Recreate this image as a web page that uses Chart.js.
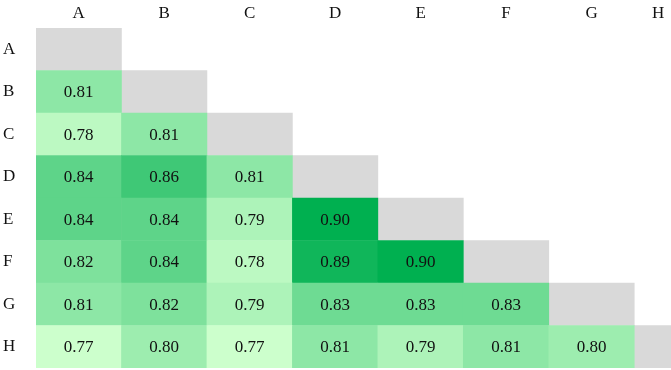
<!DOCTYPE html>
<html>
<head>
<meta charset="utf-8">
<script src="https://cdn.jsdelivr.net/npm/chart.js@4.4.1/dist/chart.umd.min.js"></script>
<style>
  body { margin: 0; background: #fff; overflow: hidden; }
</style>
</head>
<body>
<canvas id="heat" width="671" height="370"></canvas>
<script>
// labels for both axes
const columns = ['A', 'B', 'C', 'D', 'E', 'F', 'G', 'H'];
const rows = ['A', 'B', 'C', 'D', 'E', 'F', 'G', 'H'];

// lower triangle, one array per row (columns A..)
const rowA = [];
const rowB = [0.81];
const rowC = [0.78, 0.81];
const rowD = [0.84, 0.86, 0.81];
const rowE = [0.84, 0.84, 0.79, 0.90];
const rowF = [0.82, 0.84, 0.78, 0.89, 0.90];
const rowG = [0.81, 0.82, 0.79, 0.83, 0.83, 0.83];
const rowH = [0.77, 0.80, 0.77, 0.81, 0.79, 0.81, 0.80];

const allRows = [rowA, rowB, rowC, rowD, rowE, rowF, rowG, rowH];

// only part of the last column fits in the picture
const visibleCols = 7.43;

const lowColor = [204, 255, 204];
const highColor = [0, 176, 80];
const lowVal = 0.77, highVal = 0.90;

function cellColor(v) {
    let t = (v - lowVal) / (highVal - lowVal);
    t = Math.max(0, Math.min(1, t));
    const c = lowColor.map((lo, k) => Math.round(lo + (highColor[k] - lo) * t));
    return 'rgb(' + c.join(',') + ')';
}

const cells = [];
const cellColors = [];
const diagonal = [];
allRows.forEach(function (vals, i) {
    vals.forEach(function (v, j) {
        cells.push({ x: j + 0.5, y: [i, i + 1], v: v });
        cellColors.push(cellColor(v));
    });
    diagonal.push({ x: i + 0.5, y: [i, i + 1] });
});

const fontFamily = '"Liberation Serif", "Times New Roman", serif';

// write the value in the middle of each coloured cell
const cellText = {
    id: 'cellText',
    afterDatasetsDraw(chart) {
        const ctx = chart.ctx;
        const meta = chart.getDatasetMeta(0);
        ctx.save();
        ctx.font = '17px ' + fontFamily;
        ctx.fillStyle = '#111';
        ctx.textAlign = 'center';
        ctx.textBaseline = 'middle';
        meta.data.forEach(function (bar, k) {
            const p = bar.getCenterPoint();
            ctx.fillText(cells[k].v.toFixed(2), p.x, p.y + 1);
        });
        ctx.restore();
    }
};

function noPadding(scale) {
    scale.paddingLeft = 0;
    scale.paddingRight = 0;
    scale.paddingTop = 0;
    scale.paddingBottom = 0;
}

const ctx = document.getElementById('heat').getContext('2d');
new Chart(ctx, {
    type: 'bar',
    data: {
        datasets: [{
            data: cells,
            backgroundColor: cellColors,
            borderWidth: 0,
            grouped: false,
            barPercentage: 1,
            categoryPercentage: 1
        }, {
            data: diagonal,
            backgroundColor: '#d9d9d9',
            borderWidth: 0,
            grouped: false,
            barPercentage: 1,
            categoryPercentage: 1
        }]
    },
    plugins: [cellText],
    options: {
        responsive: false,
        animation: false,
        layout: { padding: { left: 3, right: 0, top: 0, bottom: 2 } },
        plugins: {
            legend: { display: false },
            tooltip: { enabled: false }
        },
        scales: {
            x: {
                type: 'linear',
                display: false,
                offset: false,
                min: 0,
                max: visibleCols,
                afterBuildTicks: function (scale) {
                    scale.ticks = columns.map((c, j) => ({ value: j }));
                },
                afterFit: noPadding
            },
            xTop: {
                type: 'linear',
                position: 'top',
                offset: false,
                min: 0,
                max: visibleCols,
                grid: { display: false, drawTicks: false },
                border: { display: false },
                afterBuildTicks: function (scale) {
                    scale.ticks = columns.map((c, j) => ({ value: Math.min(j + 0.5, visibleCols - 0.15) }));
                },
                afterFit: function (scale) {
                    noPadding(scale);
                    scale.height = 28;
                },
                ticks: {
                    padding: 4,
                    maxRotation: 0,
                    color: '#111',
                    font: { family: fontFamily, size: 17 },
                    callback: function (value, index) { return columns[index]; }
                }
            },
            y: {
                type: 'linear',
                reverse: true,
                min: 0,
                max: rows.length,
                grid: { display: false, drawTicks: false },
                border: { display: false },
                afterBuildTicks: function (scale) {
                    scale.ticks = rows.map((r, i) => ({ value: i + 0.5 }));
                },
                afterFit: function (scale) {
                    noPadding(scale);
                    scale.width = 33;
                },
                ticks: {
                    crossAlign: 'far',
                    color: '#111',
                    font: { family: fontFamily, size: 17 },
                    callback: function (value, index) { return rows[index]; }
                }
            }
        }
    }
});
</script>
</body>
</html>
